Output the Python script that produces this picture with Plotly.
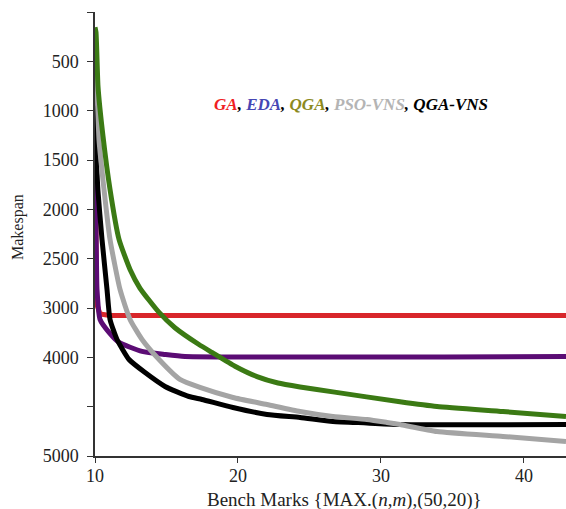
import plotly.graph_objects as go

# Axis ticks (linear position scale; labels as printed on the original axis)
y_tickvals = [0, 500, 1000, 1500, 2000, 2500, 3000, 3500, 4000, 4500]
y_ticktext = ["", "500", "1000", "1500", "2000", "2500", "3000", "4000", "", "5000"]
x_tickvals = [10, 20, 30, 40]

# Series (x = bench mark, y = makespan position on the axis)
ga_x = [10.0, 10.05, 10.1, 10.35, 11.05, 42.94]
ga_y = [900, 2700, 2950, 3060, 3075, 3075]

eda_x = [10.0, 10.04, 10.1, 10.14, 10.35, 10.98, 11.68, 13.29, 14.9, 16.29, 42.94]
eda_y = [835, 1900, 2500, 2812, 3116, 3248, 3349, 3440, 3471, 3491, 3491]

qgavns_x = [10.0, 10.03, 10.2, 10.49, 10.84, 11.05, 11.54, 12.38, 13.5, 14.9, 16.57, 17.48,
            19.65, 22.03, 24.34, 26.64, 29.02, 31.33, 42.94]
qgavns_y = [950, 1292, 1800, 2305, 2812, 3116, 3319, 3522, 3654, 3795, 3897, 3927,
            4008, 4079, 4110, 4150, 4165, 4181, 4181]

psovns_x = [10.0, 10.1, 10.28, 10.63, 11.05, 11.75, 12.45, 13.29, 14.48, 15.94, 17.34, 19.65,
            22.03, 24.34, 26.64, 29.02, 30.42, 31.33, 33.92, 38.53, 42.94]
psovns_y = [175, 560, 1292, 1798, 2305, 2812, 3116, 3319, 3522, 3724, 3805, 3907,
            3978, 4049, 4100, 4130, 4160, 4181, 4252, 4302, 4353]

qga_x = [10.0, 10.07, 10.21, 10.56, 11.05, 11.68, 12.45, 13.15, 14.48, 15.59, 17.27,
         18.18, 19.79, 21.33, 22.8, 24.34, 26.64, 31.33, 33.92, 38.53, 42.94]
qga_y = [155, 206, 753, 1260, 1798, 2305, 2610, 2800, 3045, 3200, 3370,
         3450, 3590, 3695, 3760, 3800, 3850, 3950, 3998, 4049, 4100]

series = [
    ("GA", ga_x, ga_y, "#d8262b", "linear"),
    ("EDA", eda_x, eda_y, "#5b0c74", "spline"),
    ("QGA-VNS", qgavns_x, qgavns_y, "#000000", "spline"),
    ("PSO-VNS", psovns_x, psovns_y, "#a4a4a4", "spline"),
    ("QGA", qga_x, qga_y, "#3b7a14", "spline"),
]

fig = go.Figure()
for name, xs, ys, col, shape in series:
    fig.add_trace(go.Scatter(
        x=xs, y=ys, mode="lines", name=name,
        line=dict(color=col, width=5, shape=shape, smoothing=0.5 if shape == "spline" else None),
        showlegend=False, hoverinfo="skip",
    ))

font_family = "Liberation Serif"
fig.update_layout(
    width=566, height=509,
    margin=dict(l=95, r=0, t=12, b=53),
    paper_bgcolor="white", plot_bgcolor="white",
    font=dict(family=font_family, size=15, color="#222222"),
)
fig.update_xaxes(
    range=[10, 42.94], tickvals=x_tickvals, ticks="outside", ticklen=5,
    tickcolor="#333333", showline=True, linecolor="#333333", linewidth=1.5,
    showgrid=False, zeroline=False, ticklabelstandoff=-2,
    tickfont=dict(size=18, family=font_family),
)
fig.update_yaxes(
    range=[4500, 0], tickvals=y_tickvals, ticktext=y_ticktext, ticks="outside",
    ticklen=6, tickcolor="#333333", showline=True, linecolor="#333333", linewidth=1.5,
    showgrid=False, zeroline=False, ticklabelstandoff=5,
    tickfont=dict(size=18, family=font_family),
)

H = 444.0
W = 471.0
fig.add_annotation(
    xref="paper", yref="paper", x=(344 - 95) / W, y=-(500 - 456) / H,
    text="Bench Marks {MAX.(<i>n</i>,<i>m</i>),(50,20)}", showarrow=False,
    font=dict(size=19, family=font_family, color="#222222"),
    xanchor="center", yanchor="middle",
)
fig.add_annotation(
    xref="paper", yref="paper", x=(18 - 95) / W, y=1 - (227 - 12) / H,
    text="Makespan", textangle=-90, showarrow=False,
    font=dict(size=16, family=font_family, color="#222222"),
    xanchor="center", yanchor="middle",
)
legend_text = ("<b><i><span style='color:#f01e23'>GA</span>, "
               "<span style='color:#4646b4'>EDA</span>, "
               "<span style='color:#8c8a1e'>QGA</span>, "
               "<span style='color:#b4b4b4'>PSO-VNS</span>, "
               "<span style='color:#000000'>QGA-VNS</span></i></b>")
fig.add_annotation(
    xref="paper", yref="paper", x=(351 - 95) / W, y=1 - (104 - 12) / H,
    text=legend_text, showarrow=False,
    font=dict(size=17, family=font_family, color="#000000"),
    xanchor="center", yanchor="middle",
)

fig.write_html(
    "out.html",
    config={"displayModeBar": False},
    post_script="document.body.style.margin='0';document.body.style.overflow='hidden';",
)
